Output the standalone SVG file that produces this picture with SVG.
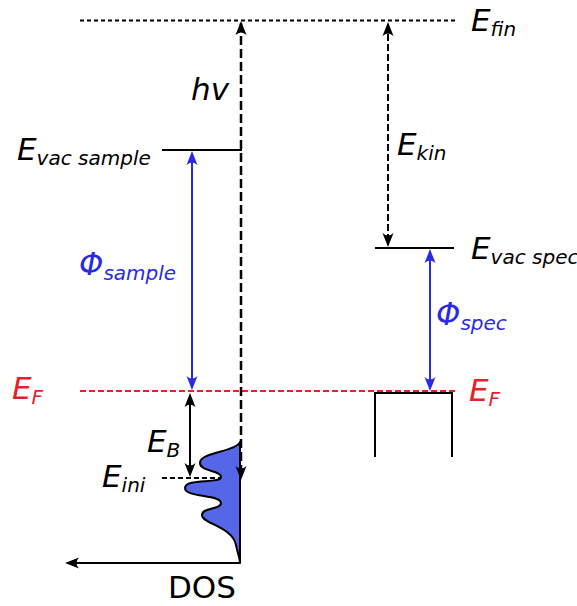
<svg xmlns="http://www.w3.org/2000/svg" width="577" height="606" viewBox="0 0 577 606">
<style>
.t{font-family:"DejaVu Sans","Liberation Sans",sans-serif;font-style:oblique;font-size:31px;fill:#000}
.s{font-size:20px}
.blue{fill:#2a2ae6}
.red{fill:#e8202a}
.ln{fill:none;stroke:#000;stroke-width:2}
.bl{fill:none;stroke:#2a2ae6;stroke-width:2}
</style>
<defs>
<marker id="ak" viewBox="-16 -7 18 14" refX="-2" refY="0" markerWidth="18" markerHeight="14" markerUnits="userSpaceOnUse" orient="auto-start-reverse">
<path d="M0,0 L-14,-5.5 Q-9,0 -14,5.5 Z" fill="#000"/>
</marker>
<marker id="ab" viewBox="-16 -7 18 14" refX="-2" refY="0" markerWidth="18" markerHeight="14" markerUnits="userSpaceOnUse" orient="auto-start-reverse">
<path d="M0,0 L-14,-5.5 Q-9,0 -14,5.5 Z" fill="#2a2ae6"/>
</marker>
</defs>

<g id="levels">
<line x1="80" y1="20.5" x2="455" y2="20.5" stroke="#000" stroke-width="2" stroke-dasharray="4 3"/>
<line x1="80" y1="391" x2="455" y2="391" stroke="#e8202a" stroke-width="2" stroke-dasharray="6 3"/>
<line class="ln" x1="162" y1="150" x2="242" y2="150"/>
<line class="ln" x1="375" y1="248" x2="454" y2="248"/>
<line x1="162" y1="478" x2="240" y2="478" stroke="#000" stroke-width="2" stroke-dasharray="5 3"/>
</g>

<g id="dos">
<path d="M240,442 C236,452 200,452 200,463 C200,472 221,470 221,477 C221,484 185,478 185,488 C185,498 221,494 221,503 C221,510 202,507 202,515 C202,524 232,526 236,545 C238,555 240,558 240,563 Z" fill="#5566e8" stroke="#000" stroke-width="2" stroke-linejoin="round"/>
<line class="ln" x1="240" y1="442" x2="240" y2="563"/>
<line class="ln" x1="240" y1="563" x2="67" y2="563" marker-end="url(#ak)"/>
<text class="t" x="168" y="598" style="font-style:normal;font-size:31px">DOS</text>
</g>

<g id="spectrometer">
<path class="ln" d="M375,457 V393 H452 V457"/>
</g>

<g id="connectors">
<line x1="241" y1="23" x2="241" y2="478" stroke="#000" stroke-width="2.5" stroke-dasharray="9 4" marker-start="url(#ak)" marker-end="url(#ak)"/>
<line x1="388" y1="24" x2="388" y2="245" stroke="#000" stroke-width="2" stroke-dasharray="7 3" marker-start="url(#ak)" marker-end="url(#ak)"/>
<line class="bl" x1="192" y1="153" x2="192" y2="388" marker-start="url(#ab)" marker-end="url(#ab)"/>
<line class="bl" x1="430" y1="251" x2="430" y2="389" marker-start="url(#ab)" marker-end="url(#ab)"/>
<line class="ln" x1="190" y1="395" x2="190" y2="475" marker-start="url(#ak)" marker-end="url(#ak)"/>
</g>

<g id="labels">
<text class="t" x="471" y="31">E<tspan class="s" dy="5">fin</tspan></text>
<text class="t" x="191" y="100">hv</text>
<text class="t" x="17" y="160">E<tspan class="s" dy="5">vac sample</tspan></text>
<text class="t" x="397" y="155">E<tspan class="s" dy="5">kin</tspan></text>
<text class="t" x="471" y="259">E<tspan class="s" dy="5">vac spec</tspan></text>
<text class="t blue" x="79" y="275">Φ<tspan class="s" dy="5">sample</tspan></text>
<text class="t blue" x="436" y="325">Φ<tspan class="s" dy="5">spec</tspan></text>
<text class="t red" x="12" y="399">E<tspan class="s" dy="5">F</tspan></text>
<text class="t red" x="469" y="401">E<tspan class="s" dy="5">F</tspan></text>
<text class="t" x="147" y="452">E<tspan class="s" dy="5">B</tspan></text>
<text class="t" x="102" y="487">E<tspan class="s" dy="5">ini</tspan></text>
</g>
</svg>
